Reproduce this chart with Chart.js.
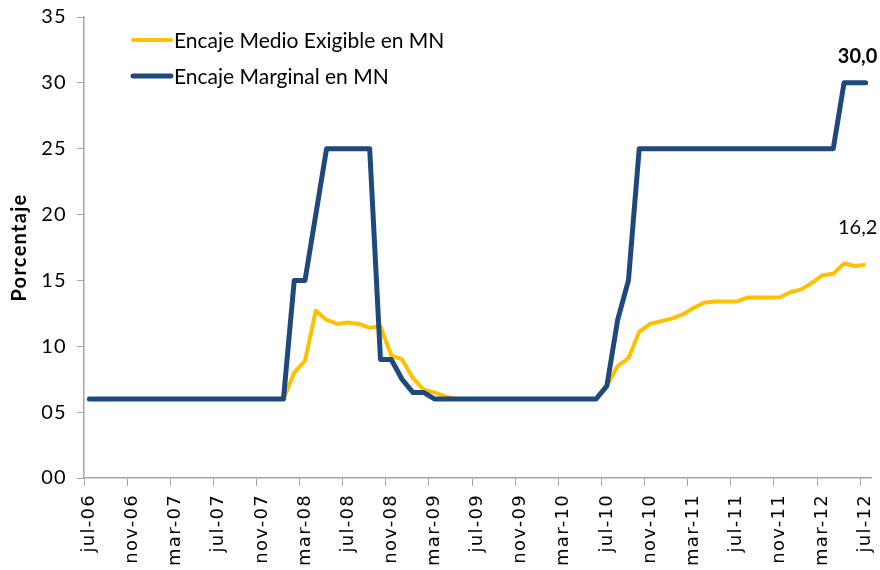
<!DOCTYPE html>
<html>
<head>
<meta charset="utf-8">
<script src="https://cdn.jsdelivr.net/npm/chart.js@4"></script>
<style>
  html, body { margin: 0; padding: 0; background: #fff; }
  #wrap { width: 880px; height: 570px; }
</style>
</head>
<body>
<div id="wrap"><canvas id="chart"></canvas></div>
<script>
// meses jul-06 .. jul-12
const labels = [
  'jul-06','ago-06','sep-06','oct-06','nov-06','dic-06',
  'ene-07','feb-07','mar-07','abr-07','may-07','jun-07','jul-07','ago-07','sep-07','oct-07','nov-07','dic-07',
  'ene-08','feb-08','mar-08','abr-08','may-08','jun-08','jul-08','ago-08','sep-08','oct-08','nov-08','dic-08',
  'ene-09','feb-09','mar-09','abr-09','may-09','jun-09','jul-09','ago-09','sep-09','oct-09','nov-09','dic-09',
  'ene-10','feb-10','mar-10','abr-10','may-10','jun-10','jul-10','ago-10','sep-10','oct-10','nov-10','dic-10',
  'ene-11','feb-11','mar-11','abr-11','may-11','jun-11','jul-11','ago-11','sep-11','oct-11','nov-11','dic-11',
  'ene-12','feb-12','mar-12','abr-12','may-12','jun-12','jul-12'
];

const encajeMedio = [
  6, 6, 6, 6, 6, 6, 6, 6, 6, 6, 6, 6, 6, 6, 6, 6, 6, 6, 6,
  8.0, 8.9, 12.7, 12.0, 11.7, 11.8, 11.7, 11.4, 11.5, 9.3, 9.0, 7.6, 6.7, 6.5, 6.2,
  6, 6, 6, 6, 6, 6, 6, 6, 6, 6, 6, 6, 6, 6,
  7.0, 8.5, 9.1, 11.1, 11.7, 11.9, 12.1, 12.4, 12.9, 13.3, 13.4, 13.4, 13.4,
  13.7, 13.7, 13.7, 13.7, 14.1, 14.3, 14.8, 15.4, 15.5, 16.3, 16.1, 16.2
];

const encajeMarginal = [
  6, 6, 6, 6, 6, 6, 6, 6, 6, 6, 6, 6, 6, 6, 6, 6, 6, 6, 6,
  15, 15, 20, 25, 25, 25, 25, 25, 9, 9, 7.5, 6.5, 6.5,
  6, 6, 6, 6, 6, 6, 6, 6, 6, 6, 6, 6, 6, 6, 6, 6,
  7, 12, 15,
  25, 25, 25, 25, 25, 25, 25, 25, 25, 25, 25, 25, 25, 25, 25, 25, 25, 25, 25,
  30, 30, 30
];

const yTicks = [0, 5, 10, 15, 20, 25, 30, 35];

const AMARILLO = '#FFC000';
const AZUL = '#1F497D';
const GRIS = '#A6A6A6';

// texto de los ejes un poco espaciado, como en el original
const espaciado = {
  id: 'espaciado',
  beforeDraw(chart) { chart.ctx.letterSpacing = '1.3px'; },
  beforeDatasetsDraw(chart) { chart.ctx.letterSpacing = '0px'; }
};

// leyenda dentro del grafico + etiquetas del ultimo dato
const anotaciones = {
  id: 'anotaciones',
  afterDatasetsDraw(chart) {
    const ctx = chart.ctx;
    ctx.save();
    ctx.lineCap = 'round';
    const items = [
      { text: 'Encaje Medio Exigible en MN', color: AMARILLO, width: 4, y: 40 },
      { text: 'Encaje Marginal en MN', color: AZUL, width: 5, y: 76 }
    ];
    items.forEach(it => {
      ctx.strokeStyle = it.color;
      ctx.lineWidth = it.width;
      ctx.beginPath();
      ctx.moveTo(133, it.y);
      ctx.lineTo(171, it.y);
      ctx.stroke();
      ctx.fillStyle = '#000';
      ctx.font = '21px Lato';
      ctx.textAlign = 'left';
      ctx.textBaseline = 'middle';
      ctx.fillText(it.text, 174, it.y + 1);
    });

    const fin = [
      { ds: 1, bold: true, dy: -26 },
      { ds: 0, bold: false, dy: -37 }
    ];
    fin.forEach(f => {
      const meta = chart.getDatasetMeta(f.ds);
      const pt = meta.data[meta.data.length - 1];
      const v = chart.data.datasets[f.ds].data[meta.data.length - 1];
      ctx.font = (f.bold ? 'bold ' : '') + '20px Lato';
      ctx.fillStyle = '#000';
      ctx.textAlign = 'center';
      ctx.textBaseline = 'middle';
      ctx.fillText(v.toFixed(1).replace('.', ','), pt.x - 8, pt.y + f.dy);
    });
    ctx.restore();
  }
};

const ctx = document.getElementById('chart').getContext('2d');
new Chart(ctx, {
  type: 'line',
  data: {
    labels: labels,
    datasets: [
      {
        label: 'Encaje Medio Exigible en MN',
        data: encajeMedio,
        borderColor: AMARILLO,
        borderWidth: 4,
        pointRadius: 0,
        tension: 0,
        borderJoinStyle: 'round',
        order: 2
      },
      {
        label: 'Encaje Marginal en MN',
        data: encajeMarginal,
        borderColor: AZUL,
        borderWidth: 5,
        pointRadius: 0,
        tension: 0,
        borderJoinStyle: 'round',
        borderCapStyle: 'round',
        order: 1
      }
    ]
  },
  options: {
    responsive: true,
    maintainAspectRatio: false,
    animation: false,
    layout: { padding: { top: 17, right: 9, left: 0, bottom: 0 } },
    plugins: {
      legend: { display: false },
      tooltip: { enabled: false }
    },
    scales: {
      x: {
        type: 'category',
        offset: true,
        grid: {
          offset: true,
          drawOnChartArea: false,
          tickLength: 8,
          tickColor: c => (c.index !== undefined && c.index % 4 === 0) ? GRIS : 'rgba(0,0,0,0)'
        },
        border: { color: GRIS, width: 1.5 },
        ticks: {
          autoSkip: false,
          maxRotation: 90,
          minRotation: 90,
          padding: 8,
          color: '#000',
          font: { family: 'DejaVu Sans', size: 18 },
          callback: function (val, i) { return i % 4 === 0 ? labels[i] : ''; }
        },
        afterFit: s => { s.height = 92; s.paddingLeft = 0; s.paddingRight = 0; }
      },
      y: {
        min: 0,
        max: 35,
        afterBuildTicks: s => { s.ticks = yTicks.map(v => ({ value: v })); },
        grid: {
          drawOnChartArea: false,
          tickLength: 7,
          tickColor: GRIS
        },
        border: { color: GRIS, width: 1.5 },
        ticks: {
          padding: 10,
          color: '#000',
          font: { family: 'Lato', size: 20 },
          callback: v => String(v).padStart(2, '0')
        },
        title: {
          display: true,
          text: 'Porcentaje',
          color: '#000',
          font: { family: 'Lato', size: 20, weight: 'bold' },
          padding: { top: 8, bottom: 4 }
        },
        afterFit: s => { s.width = 84; s.paddingTop = 0; s.paddingBottom = 0; }
      }
    }
  },
  plugins: [espaciado, anotaciones]
});
</script>
</body>
</html>
